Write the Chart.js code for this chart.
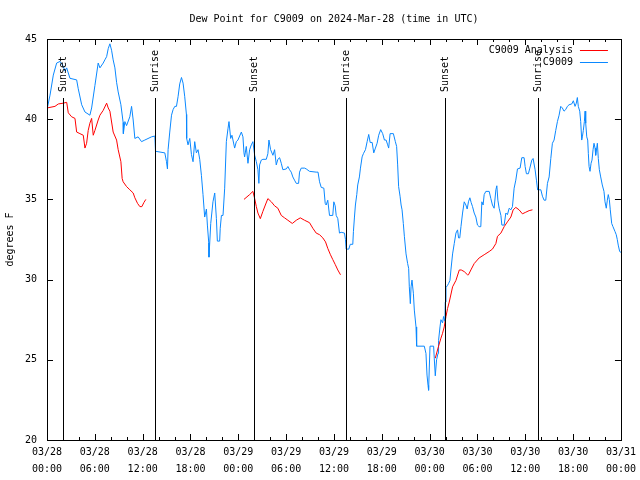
<!DOCTYPE html>
<html>
<head>
<meta charset="utf-8">
<script src="https://cdn.jsdelivr.net/npm/chart.js@4/dist/chart.umd.min.js"></script>
<style>
html,body{margin:0;padding:0;background:#fff;}
canvas{display:block;}
</style>
</head>
<body>
<canvas id="c" width="640" height="480"></canvas>
<script>
// Hours since 2024-03-28 00:00 UTC
const obsHours = [0,0.38,0.79,1.21,1.63,2.04,2.25,2.47,2.88,3.72,3.92,4.35,4.76,5.38,5.6,6.01,6.42,6.64,7.05,7.26,7.48,7.68,7.89,8.1,8.3,8.52,8.73,8.93,9.27,9.55,9.58,9.77,9.98,10.39,10.61,10.81,11.02,11.43,11.86,12.27,13.11,13.53,13.61,14.78,14.99,15.11,15.19,15.4,15.62,15.82,16.03,16.24,16.44,16.65,16.87,17.07,17.28,17.49,17.52,17.69,17.91,18.12,18.32,18.53,18.74,18.95,19.16,19.37,19.57,19.78,20.0,20.12,20.29,20.32,20.54,20.82,21.04,21.25,21.37,21.66,21.73,21.88,22.08,22.29,22.5,22.7,22.83,23.04,23.2,23.54,23.75,23.95,24.38,24.58,24.71,24.79,25.0,25.21,25.42,25.63,25.83,26.05,26.26,26.46,26.58,26.67,26.88,27.08,27.51,27.71,27.84,28.05,28.34,28.55,28.76,28.96,29.18,29.39,29.59,30.02,30.22,30.43,30.64,30.84,31.05,31.27,31.56,31.68,31.89,32.31,32.52,32.93,33.77,34.0,34.19,34.4,34.73,34.9,35.02,35.22,35.44,35.85,35.98,36.15,36.28,36.48,36.69,36.9,37.32,37.44,37.53,37.86,38.04,38.36,38.44,38.57,38.69,38.86,38.98,39.19,39.32,39.53,39.69,39.95,40.16,40.36,40.54,40.79,40.99,41.2,41.41,41.61,41.86,42.11,42.33,42.54,42.74,42.86,43.04,43.45,43.7,43.86,43.99,44.11,44.29,44.42,44.54,44.7,44.83,45.04,45.24,45.37,45.45,45.58,45.67,45.79,45.96,46.08,46.29,46.37,47.33,47.54,47.67,47.8,47.87,47.96,48.05,48.5,48.58,48.71,48.87,49.05,49.12,49.3,49.42,49.62,49.75,49.92,49.96,50.05,50.25,50.37,50.55,50.67,50.88,51.09,51.3,51.5,51.63,51.78,51.93,52.13,52.34,52.55,52.71,52.87,53.05,53.21,53.38,53.59,53.8,54.0,54.21,54.42,54.55,54.71,54.84,55.05,55.47,55.68,55.88,56.09,56.31,56.43,56.56,56.72,56.94,57.06,57.35,57.56,57.76,57.98,58.19,58.39,58.6,58.81,59.02,59.35,59.56,59.85,59.98,60.14,60.39,60.57,60.82,60.98,61.23,61.4,61.52,61.55,61.95,62.15,62.36,62.57,62.78,62.99,63.2,63.4,63.61,63.82,64.03,64.24,64.45,64.65,64.86,65.07,65.28,65.49,65.83,66.03,66.24,66.4,66.53,66.65,66.83,66.95,67.08,67.16,67.28,67.41,67.5,67.58,67.71,67.83,67.91,68.0,68.12,68.25,68.37,68.5,68.62,68.75,68.83,68.96,69.04,69.16,69.29,69.46,69.66,69.87,70.0,70.16,70.29,70.41,70.54,70.66,70.84,71.0,71.25,71.41,71.54,71.66,71.84,72.0];
const obsDew = [40.6,41.5,42.75,43.5,43.6,43.3,43.0,43.2,42.55,42.45,41.9,40.9,40.45,40.25,40.7,42.1,43.5,43.2,43.5,43.7,43.9,44.4,44.7,44.3,43.7,43.2,42.3,41.7,40.9,39.8,39.1,39.85,39.6,40.15,40.8,39.95,38.8,38.9,38.6,38.7,38.9,38.95,38.0,37.9,37.35,36.9,38.1,39.2,40.25,40.6,40.8,40.8,41.4,42.2,42.6,42.25,41.4,40.3,38.8,38.4,38.8,37.8,37.35,38.6,37.9,38.1,37.5,36.5,35.3,33.9,34.4,33.4,32.3,31.4,33.5,34.85,35.4,33.8,32.4,32.4,33.2,34.0,34.0,35.7,38.6,39.4,39.85,38.8,39.0,38.2,38.6,38.7,39.2,38.9,37.9,37.65,38.3,37.25,38.1,38.4,38.6,37.75,37.35,36.85,36.0,37.15,37.45,37.5,37.5,37.85,38.7,38.1,37.75,38.1,37.15,37.5,37.6,37.25,36.85,36.9,37.05,36.85,36.7,36.4,36.2,36.0,36.0,36.7,36.95,36.95,36.9,36.75,36.7,36.7,36.1,35.75,35.7,34.75,34.65,34.95,34.0,34.0,34.85,34.6,34.0,33.8,32.9,32.95,32.9,32.5,31.9,31.9,32.2,32.2,33.0,33.9,34.65,35.3,35.9,36.4,36.95,37.65,37.85,38.1,38.6,39.05,38.55,38.55,37.9,38.2,38.5,39.0,39.35,39.1,38.7,38.7,38.4,38.2,39.1,39.1,38.6,38.3,37.15,35.8,35.2,34.65,34.35,33.5,32.7,31.6,31.0,30.7,29.55,28.5,29.55,29.97,29.15,28.1,27.05,25.85,25.85,25.4,24.05,23.4,23.1,24.55,25.85,25.85,25.1,24.0,25.0,25.4,26.2,27.05,27.5,27.3,27.7,27.4,28.6,29.5,29.65,29.75,29.95,30.6,31.6,32.25,32.9,33.1,32.6,32.6,33.3,34.15,34.85,34.65,34.4,34.85,35.1,34.8,34.55,34.15,33.9,33.4,33.3,33.3,34.85,34.65,35.3,35.5,35.5,35.05,34.65,34.45,35.6,35.85,34.95,34.45,34.0,33.4,33.4,34.15,34.05,34.45,34.35,34.55,35.7,36.2,36.9,36.95,37.6,37.6,37.05,36.6,36.6,36.95,37.45,37.55,36.85,36.2,35.7,35.6,35.6,35.2,34.95,34.95,36.0,36.4,37.55,38.5,38.7,39.3,39.85,40.25,40.8,40.7,40.5,40.6,40.8,40.9,40.95,41.15,40.8,41.0,41.35,40.8,40.5,39.85,38.7,38.9,39.3,39.85,40.5,39.75,38.9,38.7,37.85,37.05,36.75,37.25,37.45,38.1,38.5,38.2,37.75,38.2,38.5,37.55,36.85,36.4,35.9,35.5,34.85,34.45,34.95,35.3,35.0,34.35,33.5,33.3,33.0,32.8,32.5,32.15,31.75,31.7];

const anaHours = [0,1.0,1.42,2.04,2.47,2.67,3.09,3.51,3.72,4.13,4.55,4.76,4.97,5.17,5.38,5.6,5.8,6.01,6.42,6.64,7.05,7.48,7.68,7.89,8.3,8.73,8.93,9.27,9.43,9.55,9.98,10.39,10.81,11.02,11.36,11.65,11.9,12.15,12.4,
  18,
  24.71,25.42,25.83,26.05,26.26,26.46,26.76,27.08,27.39,27.71,28.14,28.55,28.96,29.39,29.8,30.22,30.77,31.27,31.77,32.31,32.93,33.35,33.77,34.19,34.6,34.94,35.22,35.56,35.85,36.15,36.48,36.82,
  42,
  48.71,49.12,49.42,49.62,49.83,50.05,50.25,50.46,50.88,51.3,51.72,51.97,52.34,52.75,52.87,53.17,53.59,54.21,54.84,55.47,55.88,56.31,56.51,56.94,57.35,57.76,58.19,58.48,58.81,59.22,59.64,60.06,60.48,60.9];
const anaDew = [40.7,40.8,40.95,41.0,41.05,40.4,40.15,40.05,39.2,39.1,39.0,38.2,38.5,39.3,39.75,40.05,39.0,39.3,39.95,40.25,40.55,41.0,40.7,40.5,39.2,38.7,38.1,37.35,36.3,36.1,35.8,35.6,35.4,35.1,34.75,34.55,34.55,34.8,35.0,
  null,
  35.0,35.3,35.5,35.05,34.55,34.15,33.8,34.25,34.65,35.05,34.85,34.6,34.45,34.0,33.85,33.7,33.5,33.7,33.85,33.7,33.55,33.2,32.9,32.8,32.6,32.35,31.95,31.55,31.25,30.95,30.6,30.3,
  null,
  25.1,25.85,26.35,26.65,27.05,27.7,28.2,28.6,29.55,29.95,30.6,30.6,30.5,30.3,30.3,30.6,31.0,31.35,31.55,31.75,31.9,32.25,32.7,32.9,33.3,33.6,33.9,34.35,34.5,34.35,34.1,34.2,34.3,34.35];

const eventHours = [2.0, 13.52, 25.92, 37.57, 49.96, 61.6];
const eventNames = ["Sunset","Sunrise","Sunset","Sunrise","Sunset","Sunrise"];
const eventTop = 41.3;

const xTickStep = 6;
const xMinorStep = 2;
const yTickStep = 5;
const titleText = "Dew Point for C9009 on 2024-Mar-28 (time in UTC)";
const yTitle = "degrees F";
const seriesNames = ["C9009 Analysis", "C9009"];
const seriesColors = ["#ff0000", "#0a88ff"];

const FONT = "DejaVu Sans Mono";

function pts(hs, vs){ return hs.map((h,i)=>({x:h, y:vs[i]})); }

const decor = {
  id: 'decor',
  afterDraw(chart){
    const ctx = chart.ctx, a = chart.chartArea;
    const xs = chart.scales.x, ys = chart.scales.y;
    ctx.save();
    ctx.strokeStyle = '#000';
    ctx.lineWidth = 1;
    // event lines
    ctx.font = '10px "' + FONT + '"';
    ctx.fillStyle = '#000';
    eventHours.forEach((h,i)=>{
      const px = Math.round(xs.getPixelForValue(h)) + 0.5;
      const top = Math.round(ys.getPixelForValue(eventTop));
      ctx.beginPath(); ctx.moveTo(px, top); ctx.lineTo(px, a.bottom); ctx.stroke();
      ctx.save();
      ctx.translate(px, top - 6);
      ctx.rotate(-Math.PI/2);
      ctx.textAlign = 'left'; ctx.textBaseline = 'middle';
      ctx.fillText(eventNames[i], 0, 0);
      ctx.restore();
    });
    // frame
    ctx.strokeRect(Math.round(a.left)+0.5, Math.round(a.top)+0.5, Math.round(a.right-a.left), Math.round(a.bottom-a.top));
    // ticks
    ctx.beginPath();
    for (let h = xs.min; h <= xs.max + 1e-9; h += xMinorStep){
      const px = Math.round(xs.getPixelForValue(h)) + 0.5;
      const len = (Math.abs(h % xTickStep) < 1e-9) ? 6 : 3;
      ctx.moveTo(px, a.bottom); ctx.lineTo(px, a.bottom - len);
      ctx.moveTo(px, a.top); ctx.lineTo(px, a.top + len);
    }
    for (let v = ys.min; v <= ys.max + 1e-9; v += yTickStep){
      const py = Math.round(ys.getPixelForValue(v)) + 0.5;
      ctx.moveTo(a.left, py); ctx.lineTo(a.left + 6, py);
      ctx.moveTo(a.right, py); ctx.lineTo(a.right - 6, py);
    }
    ctx.stroke();
    // title
    ctx.textAlign = 'center'; ctx.textBaseline = 'middle';
    ctx.fillText(titleText, (a.left + a.right)/2, 19);
    // legend
    chart.data.datasets.forEach((ds,i)=>{
      const y = a.top + 11 + i*12;
      ctx.textAlign = 'right';
      ctx.fillStyle = '#000';
      ctx.fillText(ds.label, a.right - 48, y + 0.5);
      ctx.strokeStyle = ds.borderColor;
      ctx.beginPath(); ctx.moveTo(a.right - 41, Math.round(y)+0.5); ctx.lineTo(a.right - 13, Math.round(y)+0.5); ctx.stroke();
    });
    ctx.restore();
  }
};

new Chart(document.getElementById('c'), {
  type: 'line',
  data: {
    datasets: [
      { label: seriesNames[0], data: pts(anaHours, anaDew), borderColor: seriesColors[0], borderWidth: 1, pointRadius: 0, spanGaps: false, tension: 0 },
      { label: seriesNames[1], data: pts(obsHours, obsDew), borderColor: seriesColors[1], borderWidth: 1, pointRadius: 0, tension: 0 }
    ]
  },
  options: {
    responsive: false,
    animation: false,
    devicePixelRatio: 1,
    layout: { padding: { left: 0, right: 18, top: 39, bottom: 0 } },
    plugins: { legend: { display: false }, title: { display: false }, tooltip: { enabled: false } },
    scales: {
      x: {
        type: 'linear', min: 0, max: 72,
        grid: { display: false, drawTicks: false },
        border: { display: false },
        afterBuildTicks(s){ const t=[]; for(let h=0;h<=72;h+=xTickStep) t.push({value:h}); s.ticks=t; },
        afterFit(s){ s.height = 40; },
        ticks: {
          autoSkip: false, maxRotation: 0, padding: 4, color: '#000',
          font: { family: FONT, size: 10, lineHeight: 1.7 },
          callback(v){
            const d = 28 + Math.floor(v/24);
            const hh = v % 24;
            return ['03/' + String(d).padStart(2,'0'), String(hh).padStart(2,'0') + ':00'];
          }
        }
      },
      y: {
        min: 20, max: 45,
        grid: { display: false, drawTicks: false },
        border: { display: false },
        afterFit(s){ s.width = 47; },
        ticks: { stepSize: yTickStep, padding: 10, color: '#000', font: { family: FONT, size: 10 } },
        title: { display: true, text: yTitle, color: '#000', font: { family: FONT, size: 10 }, padding: { top: 4, bottom: 4 } }
      }
    }
  },
  plugins: [decor]
});
</script>
</body>
</html>
